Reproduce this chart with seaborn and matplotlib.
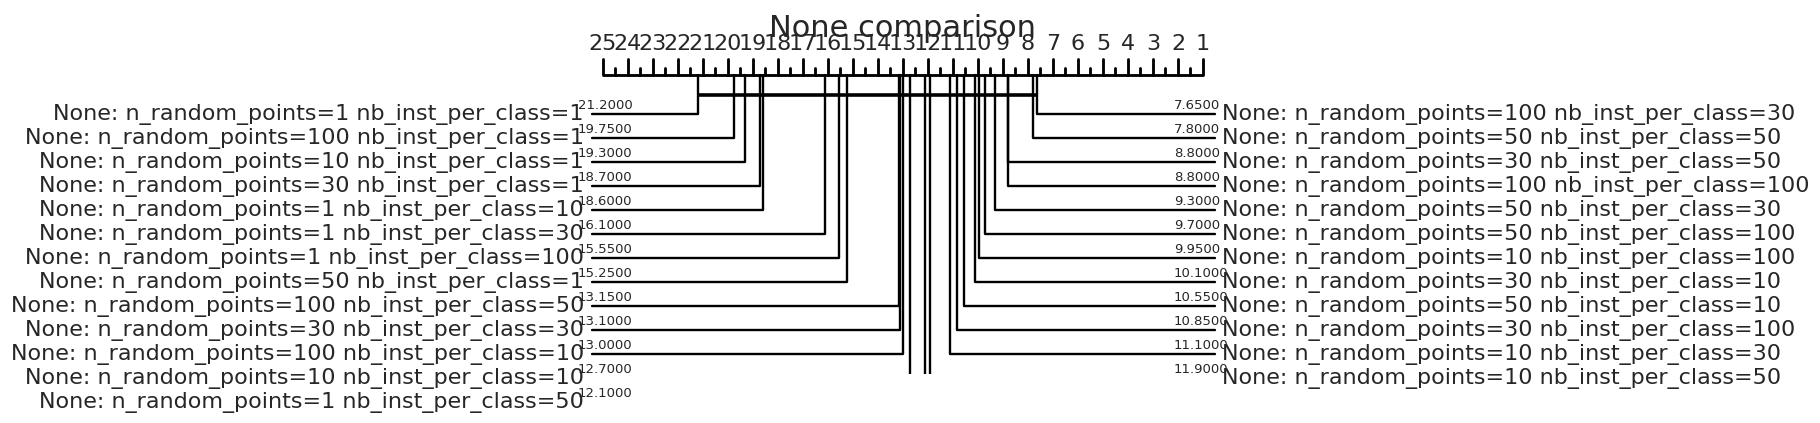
import pandas as pd
import seaborn as sns
import matplotlib.pyplot as plt

# average ranks, left block (worse) and right block (better)
left_names = [
    "None: n_random_points=1 nb_inst_per_class=1",
    "None: n_random_points=100 nb_inst_per_class=1",
    "None: n_random_points=10 nb_inst_per_class=1",
    "None: n_random_points=30 nb_inst_per_class=1",
    "None: n_random_points=1 nb_inst_per_class=10",
    "None: n_random_points=1 nb_inst_per_class=30",
    "None: n_random_points=1 nb_inst_per_class=100",
    "None: n_random_points=50 nb_inst_per_class=1",
    "None: n_random_points=100 nb_inst_per_class=50",
    "None: n_random_points=30 nb_inst_per_class=30",
    "None: n_random_points=100 nb_inst_per_class=10",
    "None: n_random_points=10 nb_inst_per_class=10",
    "None: n_random_points=1 nb_inst_per_class=50",
]
left_ranks = [21.2, 19.75, 19.3, 18.7, 18.6, 16.1, 15.55, 15.25, 13.15, 13.1, 13.0, 12.7, 12.1]

right_names = [
    "None: n_random_points=100 nb_inst_per_class=30",
    "None: n_random_points=50 nb_inst_per_class=50",
    "None: n_random_points=30 nb_inst_per_class=50",
    "None: n_random_points=100 nb_inst_per_class=100",
    "None: n_random_points=50 nb_inst_per_class=30",
    "None: n_random_points=50 nb_inst_per_class=100",
    "None: n_random_points=10 nb_inst_per_class=100",
    "None: n_random_points=30 nb_inst_per_class=10",
    "None: n_random_points=50 nb_inst_per_class=10",
    "None: n_random_points=30 nb_inst_per_class=100",
    "None: n_random_points=10 nb_inst_per_class=30",
    "None: n_random_points=10 nb_inst_per_class=50",
]
right_ranks = [7.65, 7.8, 8.8, 8.8, 9.3, 9.7, 9.95, 10.1, 10.55, 10.85, 11.1, 11.9]

# groups that are not significantly different (lo, hi)
cliques = [(7.65, 21.2)]

title = "None comparison"
n_methods = 25

# layout: ranks on x (25 px per rank), rows on y (24 px per row)
W, H = 1820, 423
px_rank = 25.0
x25 = 603.0
row_px = 24.0
row0 = 114.3


def rx(px):
    return n_methods - (px - x25) / px_rank


def ry(px):
    return (px - row0) / row_px


sns.set_style("white")
plt.rcParams["font.family"] = ["DejaVu Sans"]

fig = plt.figure(figsize=(W / 100, H / 100), dpi=100)
ax = fig.add_axes([0, (H - 374) / H, 1, 374 / H])
ax.set_xlim(rx(0), rx(W))
ax.set_ylim(ry(374), ry(0))
ax.axis("off")

lw = 1.7
y_axis = ry(75)

# axis line with ticks
ax.plot([n_methods, 1], [y_axis, y_axis], color="k", lw=lw * 1.2, solid_capstyle="butt")
for k in range(2 * (n_methods - 1) + 1):
    r = 1 + k / 2
    top = ry(59) if k % 2 == 0 else ry(68)
    ax.plot([r, r], [y_axis, top], color="k", lw=lw * 1.2)
for r in range(1, n_methods + 1):
    ax.text(r, ry(50), str(r), ha="center", va="baseline", fontsize=16)

ax.text((n_methods + 1) / 2, ry(37), title, ha="center", va="baseline", fontsize=22)

# elbow connectors, drawn with seaborn
rows = []
for i, (name, r) in enumerate(zip(left_names, left_ranks)):
    for x, y in [(r, y_axis), (r, i), (rx(592), i)]:
        rows.append({"name": "L" + name, "x": x, "y": y})
for i, (name, r) in enumerate(zip(right_names, right_ranks)):
    for x, y in [(r, y_axis), (r, i), (rx(1215), i)]:
        rows.append({"name": "R" + name, "x": x, "y": y})
df = pd.DataFrame(rows)
sns.lineplot(data=df, x="x", y="y", units="name", estimator=None, sort=False,
             color="k", lw=lw, ax=ax, legend=False)
ax.axis("off")

for i, (name, r) in enumerate(zip(left_names, left_ranks)):
    ax.text(rx(584), i, name, ha="right", va="center", fontsize=16)
    ax.text(rx(578), i - 0.1, f"{r:.4f}", ha="left", va="bottom", fontsize=9.5)
for i, (name, r) in enumerate(zip(right_names, right_ranks)):
    ax.text(rx(1222), i, name, ha="left", va="center", fontsize=16)
    ax.text(rx(1174), i - 0.1, f"{r:.4f}", ha="left", va="bottom", fontsize=9.5)

for lo, hi in cliques:
    ax.plot([hi, lo], [ry(95), ry(95)], color="k", lw=2.6, solid_capstyle="butt")

fig.savefig("out.png", dpi=100)
